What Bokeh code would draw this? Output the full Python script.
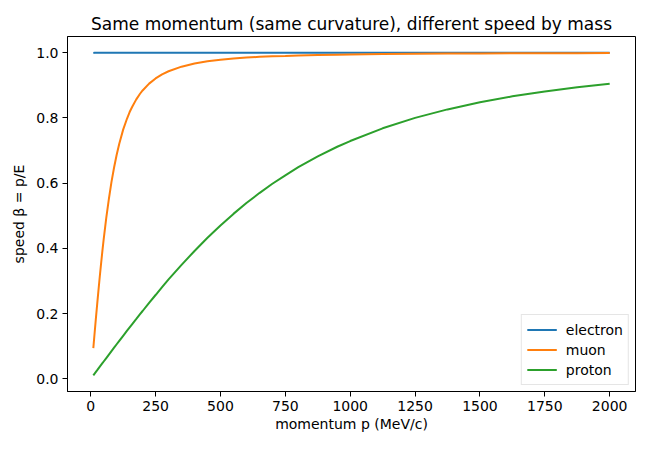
from bokeh.plotting import figure
from bokeh.models import FixedTicker, NumeralTickFormatter, Range1d, Legend, LegendItem
from bokeh.embed import file_html
from bokeh.resources import INLINE

# momentum grid (MeV/c) and speeds
momentum = [10, 15, 20, 25, 30, 35, 40, 45, 50, 60, 70, 80, 90, 100, 110, 125, 140,
            150, 160, 175, 190, 200, 225, 250, 275, 300, 350, 400, 450, 500, 550, 600,
            650, 700, 750, 800, 875, 950, 1000, 1125, 1250, 1375, 1500, 1625, 1750,
            1875, 2000]
beta_electron = [0.9987, 0.9994, 0.9997, 0.9998, 0.9999] + [1.0] * 42
beta_muon = [0.0942, 0.1406, 0.186, 0.230, 0.273, 0.3145, 0.354, 0.392, 0.428, 0.494,
             0.552, 0.604, 0.648, 0.687, 0.721, 0.764, 0.798, 0.818, 0.834, 0.856,
             0.874, 0.884, 0.905, 0.921, 0.9335, 0.943, 0.957, 0.967, 0.9735, 0.978,
             0.982, 0.985, 0.9871, 0.9888, 0.990, 0.9914, 0.9928, 0.9939, 0.9945,
             0.9956, 0.9964, 0.9971, 0.9975, 0.9979, 0.9982, 0.9984, 0.9986]
beta_proton = [0.0107, 0.0160, 0.0213, 0.0266, 0.0320, 0.0373, 0.0426, 0.0479, 0.0532,
               0.0638, 0.0744, 0.0850, 0.0955, 0.106, 0.1164, 0.132, 0.1476, 0.158,
               0.1681, 0.183, 0.1985, 0.208, 0.2332, 0.257, 0.2813, 0.305, 0.3495,
               0.392, 0.4324, 0.470, 0.5057, 0.539, 0.5695, 0.598, 0.624, 0.6488,
               0.682, 0.7115, 0.729, 0.768, 0.800, 0.826, 0.848, 0.866, 0.881, 0.894,
               0.905]

x_ticks = [0, 250, 500, 750, 1000, 1250, 1500, 1750, 2000]
y_ticks = [0.0, 0.2, 0.4, 0.6, 0.8, 1.0]

FONT = "DejaVu Sans"

p = figure(width=650, height=450, output_backend="svg", toolbar_location=None,
           x_range=Range1d(-89.5, 2099.5), y_range=Range1d(-0.0388, 1.0495),
           min_border_left=67, min_border_right=15, min_border_top=36, min_border_bottom=59)

p.title.text = "Same momentum (same curvature), different speed by mass"
p.title.text_font = FONT
p.title.text_font_size = "17px"
p.title.text_font_style = "normal"
p.title.text_color = "black"
p.title.align = "center"
p.title.standoff = 6

series = [("electron", beta_electron, "#1f77b4"),
          ("muon", beta_muon, "#ff7f0e"),
          ("proton", beta_proton, "#2ca02c")]
items = []
for name, vals, color in series:
    r = p.line(momentum, vals, line_color=color, line_width=2)
    items.append(LegendItem(label=name, renderers=[r]))

legend = Legend(items=items, location="bottom_right", margin=6, padding=5,
                spacing=1, label_height=19, glyph_height=19, glyph_width=30,
                label_standoff=9, label_text_font=FONT, label_text_font_size="14px",
                label_text_color="black",
                border_line_color="#cccccc", border_line_width=1,
                background_fill_alpha=0.8)
p.add_layout(legend, "center")

p.grid.visible = False
p.outline_line_color = "black"
p.outline_line_width = 1

p.xaxis.ticker = FixedTicker(ticks=x_ticks)
p.yaxis.ticker = FixedTicker(ticks=y_ticks)
p.yaxis.formatter = NumeralTickFormatter(format="0.0")
p.xaxis.axis_label = "momentum p (MeV/c)"
p.yaxis.axis_label = "speed β = p/E"

for ax in (p.xaxis, p.yaxis):
    ax.axis_line_color = "black"
    ax.major_tick_line_color = "black"
    ax.major_tick_out = 5
    ax.major_tick_in = 0
    ax.minor_tick_line_color = None
    ax.major_label_text_font = FONT
    ax.major_label_text_font_size = "14px"
    ax.major_label_text_color = "black"
    ax.axis_label_text_font = FONT
    ax.axis_label_text_font_size = "14px"
    ax.axis_label_text_font_style = "normal"
    ax.axis_label_text_color = "black"
p.xaxis.major_label_standoff = 4
p.yaxis.major_label_standoff = 4
p.xaxis.axis_label_standoff = 2
p.yaxis.axis_label_standoff = 6

open("out.html", "w").write(file_html(p, INLINE))
